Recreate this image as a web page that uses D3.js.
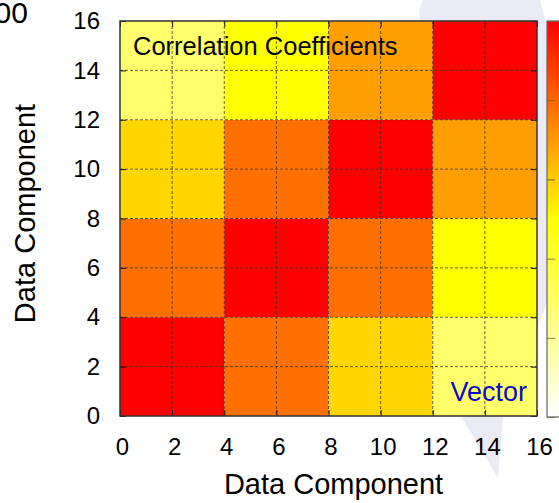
<!DOCTYPE html>
<html>
<head>
<meta charset="utf-8">
<script src="https://cdn.jsdelivr.net/npm/d3@7"></script>
<style>
  body { margin: 0; background: #fff; }
  svg { display: block; font-family: "Liberation Sans", Arial, sans-serif; }
</style>
</head>
<body>
<svg id="chart"></svg>
<script>
// block edges along each axis (data component index)
const xEdges = [0, 4, 8, 12, 16];
const yEdges = [0, 4, 8, 12, 16];
// correlation coefficient of each block, rows from bottom (y 0-4) to top
const corrRow0 = [1.00, 0.78, 0.58, 0.29];
const corrRow1 = [0.78, 1.00, 0.78, 0.50];
const corrRow2 = [0.58, 0.78, 1.00, 0.69];
const corrRow3 = [0.29, 0.50, 0.69, 1.00];
const corrRows = [corrRow0, corrRow1, corrRow2, corrRow3];
const axisTicks = [0, 2, 4, 6, 8, 10, 12, 14, 16];
const cbTicks = [0, 0.2, 0.4, 0.6, 0.8, 1.0];

const W = 559, H = 503;
const margin = {top: 21, left: 120};
const width = 417, height = 395;

const svg = d3.select('#chart').attr('width', W).attr('height', H);

// faint decorative shape behind the plot
svg.append('path')
    .attr('d', 'M423,0 L540,0 L549,35 L549,298 L537,328 L503,418 L498,478 L462,418 L420,21 Q418,8 423,0 Z')
    .attr('fill', '#ebebf5');

// stray label cut at top left
svg.append('text')
    .attr('x', 28).attr('y', 23)
    .attr('text-anchor', 'end')
    .attr('font-size', '30px')
    .text('100');

const chart = svg.append('g')
    .attr('transform', `translate(${margin.left},${margin.top})`);

const xScale = d3.scaleLinear().domain([0, 16]).range([0, width]);
const yScale = d3.scaleLinear().domain([0, 16]).range([height, 0]);
const color = d3.scaleLinear().domain([0, 0.5, 1]).range(['#ffffff', '#ffff00', '#ff0000']);

// heatmap blocks
const cells = [];
corrRows.forEach((row, j) => {
  row.forEach((v, i) => {
    cells.push({x0: xEdges[i], x1: xEdges[i + 1], y0: yEdges[j], y1: yEdges[j + 1], v: v});
  });
});

chart.selectAll('rect.cell')
    .data(cells)
  .enter().append('rect')
    .attr('class', 'cell')
    .attr('x', d => xScale(d.x0))
    .attr('y', d => yScale(d.y1))
    .attr('width', d => xScale(d.x1) - xScale(d.x0))
    .attr('height', d => yScale(d.y0) - yScale(d.y1))
    .attr('fill', d => color(d.v));

// dashed grid
const inner = axisTicks.slice(1, -1);
chart.selectAll('line.gx')
    .data(inner)
  .enter().append('line')
    .attr('x1', d => xScale(d)).attr('x2', d => xScale(d))
    .attr('y1', 0).attr('y2', height)
    .attr('stroke', '#333').attr('stroke-opacity', 0.75)
    .attr('stroke-width', 1).attr('stroke-dasharray', '3,2');
chart.selectAll('line.gy')
    .data(inner)
  .enter().append('line')
    .attr('y1', d => yScale(d)).attr('y2', d => yScale(d))
    .attr('x1', 0).attr('x2', width)
    .attr('stroke', '#333').attr('stroke-opacity', 0.75)
    .attr('stroke-width', 1).attr('stroke-dasharray', '3,2');

// axes, ticks pointing inward
const xAxis = d3.axisBottom(xScale).tickValues(axisTicks).tickSizeInner(-6).tickSizeOuter(0).tickPadding(22);
const yAxis = d3.axisLeft(yScale).tickValues(axisTicks).tickSizeInner(-6).tickSizeOuter(0).tickPadding(20);
const xAxisTop = d3.axisTop(xScale).tickValues(axisTicks).tickSizeInner(-6).tickSizeOuter(0).tickFormat('');
const yAxisRight = d3.axisRight(yScale).tickValues(axisTicks).tickSizeInner(-6).tickSizeOuter(0).tickFormat('');

const xAxisG = chart.append('g').attr('transform', `translate(0,${height})`).call(xAxis);
const yAxisG = chart.append('g').call(yAxis);
const xTopG = chart.append('g').call(xAxisTop);
const yRightG = chart.append('g').attr('transform', `translate(${width},0)`).call(yAxisRight);

[xAxisG, yAxisG, xTopG, yRightG].forEach(g => {
  g.select('.domain').remove();
  g.selectAll('line').attr('stroke', '#111');
  g.selectAll('text').attr('font-size', '24px').attr('fill', '#000')
      .attr('font-family', '"Liberation Sans", Arial, sans-serif');
});
xAxisG.selectAll('text').attr('dx', '2px');

// border
chart.append('rect')
    .attr('width', width).attr('height', height)
    .attr('fill', 'none').attr('stroke', '#333').attr('stroke-width', 1.5);

// labels inside plot
chart.append('text')
    .attr('x', 13).attr('y', 34)
    .attr('font-size', '25.5px')
    .text('Correlation Coefficients');

chart.append('text')
    .attr('x', width - 10).attr('y', height - 15)
    .attr('text-anchor', 'end')
    .attr('font-size', '27px')
    .attr('fill', '#0a0acc')
    .text('Vector');

// axis titles
svg.append('text')
    .attr('x', margin.left + width / 2 + 5).attr('y', 494)
    .attr('text-anchor', 'middle')
    .attr('font-size', '29px')
    .text('Data Component');

svg.append('text')
    .attr('transform', `translate(35,${margin.top + height / 2 - 5}) rotate(-90)`)
    .attr('text-anchor', 'middle')
    .attr('font-size', '29px')
    .text('Data Component');

// colour box
const cbX = 547, cbW = 30;
const cbScale = d3.scaleLinear().domain([0, 1]).range([height + 1, 0]);
const defs = svg.append('defs');
const grad = defs.append('linearGradient')
    .attr('id', 'cbgrad')
    .attr('x1', 0).attr('y1', 1).attr('x2', 0).attr('y2', 0);
grad.selectAll('stop')
    .data(color.domain())
  .enter().append('stop')
    .attr('offset', d => d)
    .attr('stop-color', d => color(d));

const cb = svg.append('g').attr('transform', `translate(${cbX},${margin.top})`);
cb.append('rect')
    .attr('width', cbW).attr('height', height + 1)
    .attr('fill', 'url(#cbgrad)');
const cbAxis = d3.axisLeft(cbScale).tickValues(cbTicks).tickSizeInner(-8).tickSizeOuter(0).tickFormat('');
const cbAxisG = cb.append('g').call(cbAxis);
cbAxisG.select('.domain').remove();
cbAxisG.selectAll('line').attr('stroke', '#7a5a20').attr('stroke-opacity', 0.8);
cb.append('rect')
    .attr('width', cbW).attr('height', height + 1)
    .attr('fill', 'none').attr('stroke', '#666').attr('stroke-width', 1.2);
</script>
</body>
</html>
